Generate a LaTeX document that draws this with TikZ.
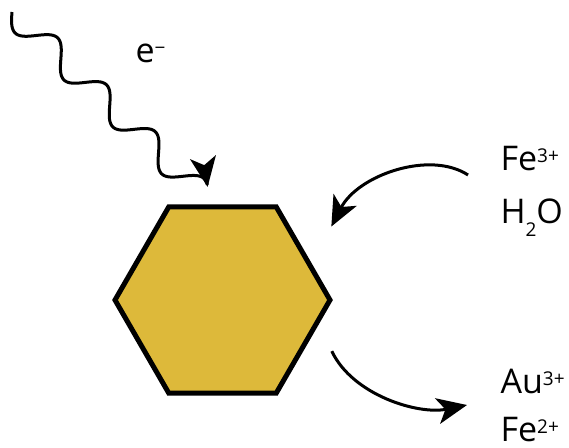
\documentclass[tikz,border=0pt]{standalone}
\usepackage{fontspec}
\setmainfont{Open Sans}
\usepackage{tikz}
\usetikzlibrary{arrows.meta, shapes.geometric}
\definecolor{goldc}{HTML}{DDB93A}
\newcommand{\chg}[1]{\raisebox{8pt}{\fontsize{19}{21}\selectfont #1}}
\newcommand{\lowidx}[1]{\raisebox{-13pt}{\fontsize{19}{21}\selectfont #1}}

\begin{document}
\begin{tikzpicture}[x=1pt, y=-1pt, line width=3pt,
          >={Stealth[length=30pt, width=26pt, inset=8pt]},
          font=\fontsize{34}{40}\selectfont,
          lbl/.style={anchor=base west, inner sep=0pt}]
        \useasboundingbox (0,0) rectangle (569,447);
        \node[regular polygon, regular polygon sides=6, minimum size=215pt,
              inner sep=0pt, draw, line width=5pt, fill=goldc] (hex) at (222.5,300) {};
        \node[lbl] (elec) at (134,62) {e\chg{−}};
        \node[lbl] (fe3) at (499,170) {Fe\chg{3+}};
        \node[lbl] (h2o) at (499,223) {H\lowidx{2}O};
        \node[lbl] (au3) at (499,393) {Au\chg{3+}};
        \node[lbl] (fe2) at (499,441) {Fe\chg{2+}};
        \coordinate (src) at (12,12);
        \coordinate (inA) at (468,175);
        \coordinate (outA) at (467,405);
        % light in
        \begin{scope}[shift={(src)}, rotate=-43.86]
          \draw[->] plot[domain=0:1393.6, samples=160]
            ({\x/360*67.74}, {13*sin(\x)});
        \end{scope}
        % reactants in, products out
        \draw[->, shorten >=42pt] (inA) .. controls (430,150) and (358,175) .. (hex.22);
        \draw[->, shorten <=30pt] (hex.-14) .. controls (352.5,395) and (418,415) .. (outA);
      \end{tikzpicture}
\end{document}
